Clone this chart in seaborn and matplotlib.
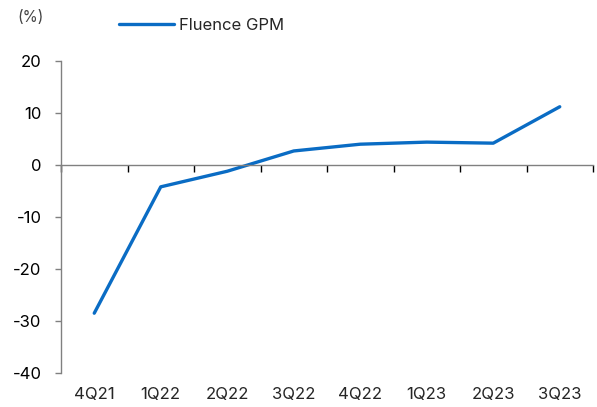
import numpy as np
import pandas as pd
import matplotlib
matplotlib.use("Agg")
import matplotlib.pyplot as plt
import seaborn as sns

# ── Data ─────────────────────────────────────────────────────────────
quarters = ["4Q21", "1Q22", "2Q22", "3Q22", "4Q22", "1Q23", "2Q23", "3Q23"]
gpm = [-28.5, -4.2, -1.2, 2.7, 4.0, 4.4, 4.2, 11.2]
y_ticks = [-40, -30, -20, -10, 0, 10, 20]

sns.set_theme(style="white")
plt.rcParams["font.family"] = ["Inter", "Noto Sans CJK KR", "DejaVu Sans"]

LINE_COLOR = "#0a6cc4"
AXIS_COLOR = "#808080"

df = pd.DataFrame({"quarter": quarters, "gpm": gpm, "x": np.arange(len(quarters))})

fig = plt.figure(figsize=(5.97, 4.07), dpi=100)
ax = fig.add_axes([61 / 597, 1 - 373 / 407, (593 - 61) / 597, (373 - 61) / 407])

sns.lineplot(data=df, x="x", y="gpm", ax=ax, color=LINE_COLOR,
             linewidth=2.4, label="Fluence GPM", legend=False)

ax.set_xlim(-0.5, len(quarters) - 0.5)
ax.set_ylim(-40, 20)
ax.set_yticks(y_ticks)
ax.set_yticklabels([str(v) for v in y_ticks], fontsize=12)
ax.set_xlabel("")
ax.set_ylabel("")

# spines: left axis and zero line with category boundary ticks
for s in ["top", "right"]:
    ax.spines[s].set_visible(False)
ax.spines["left"].set_color(AXIS_COLOR)
ax.spines["left"].set_linewidth(1.0)
ax.spines["bottom"].set_position(("data", 0))
ax.spines["bottom"].set_color(AXIS_COLOR)
ax.spines["bottom"].set_linewidth(1.0)
ax.tick_params(axis="y", direction="out", length=4, width=1, color=AXIS_COLOR,
               left=True, pad=10, labelcolor="black")

ax.set_xticks([])
ax.set_xticks(np.arange(len(quarters) + 1) - 0.5, minor=True)
ax.tick_params(axis="x", which="minor", direction="out", length=5, width=1,
               color="black", bottom=True)

# category labels at the bottom
sec = ax.secondary_xaxis("bottom")
sec.set_xticks(df["x"])
sec.set_xticklabels(quarters, fontsize=12)
sec.tick_params(length=0, pad=10)
sec.spines["bottom"].set_visible(False)

# unit label and legend at top
fig.text(17 / 597, 1 - 18 / 407, "(%)", fontsize=11, color="#444444", va="center")
fig.legend(loc="center left", bbox_to_anchor=(112 / 597, 1 - 25 / 407),
           frameon=False, fontsize=12, handlelength=3.3, handletextpad=0.3,
           borderaxespad=0)

fig.savefig("out.png", dpi=100)
plt.close(fig)
